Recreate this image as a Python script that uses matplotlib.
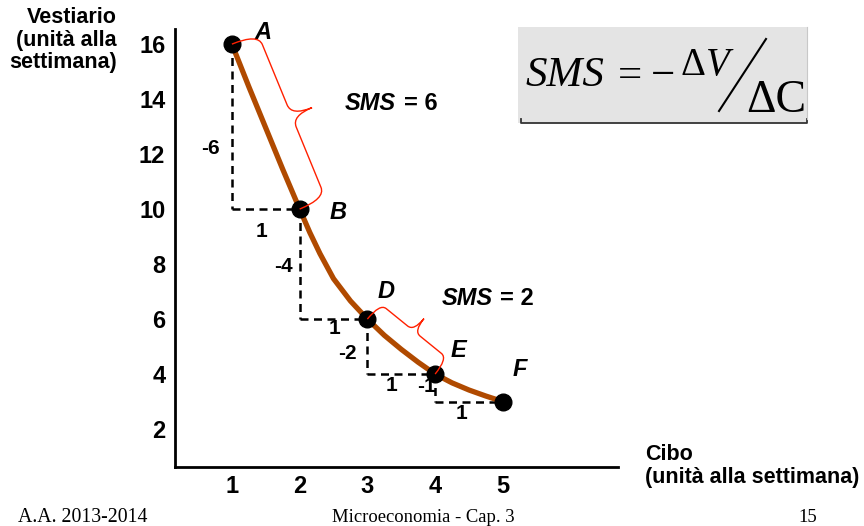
import numpy as np
import matplotlib
matplotlib.use("Agg")
import matplotlib.pyplot as plt
from matplotlib.path import Path
from matplotlib.patches import PathPatch, Rectangle
from matplotlib.transforms import IdentityTransform
from matplotlib.lines import Line2D

# basket points
pt_names = ['A', 'B', 'D', 'E', 'F']
pt_x = [1, 2, 3, 4, 5]
pt_y = [16, 10, 6, 4, 3]

# indifference curve
curve_x = [1, 1.25, 1.5, 1.75, 2, 2.15, 2.3, 2.5, 2.75, 3, 3.25, 3.5, 3.75, 4, 4.25, 4.5, 4.75, 5]
curve_y = [16, 14.45, 12.95, 11.45, 10, 9.15, 8.38, 7.47, 6.66, 6, 5.41, 4.9, 4.43, 4.0, 3.68, 3.42, 3.2, 3.0]

# step labels (dV and dC)
step_labels = ['-6', '1', '-4', '1', '-2', '1', '-1', '1']
step_lx = [0.68, 1.44, 1.76, 2.52, 2.71, 3.36, 3.87, 4.39]
step_ly = [12.2, 9.18, 7.9, 5.66, 4.75, 3.6, 3.54, 2.57]

# name label positions
name_lx = [1.46, 2.57, 3.28, 4.34, 5.25]
name_ly = [16.41, 9.87, 7.0, 4.87, 4.15]

# SMS labels
sms_text = ['= 6', '= 2']
sms_x = [2.67, 4.09]
sms_y = [13.84, 6.75]

xticks = [1, 2, 3, 4, 5]
yticks = [2, 4, 6, 8, 10, 12, 14, 16]

W, H = 864, 526
fig = plt.figure(figsize=(W / 100, H / 100), dpi=100)
ax = fig.add_axes([175 / W, 1 - 467 / H, (618 - 175) / W, (467 - 29) / H])

sans = 'Liberation Sans'
serif = 'Liberation Serif'
brown = '#B04A00'

ax.set_xlim(0.16, 6.70)
ax.set_ylim(0.62, 16.55)
for s in ['top', 'right']:
    ax.spines[s].set_visible(False)
for s in ['left', 'bottom']:
    ax.spines[s].set_linewidth(2)
ax.set_xticks(xticks)
ax.set_yticks(yticks)
ax.tick_params(length=0)
ax.tick_params(axis='x', pad=6)
ax.tick_params(axis='y', pad=7)
for lab in ax.get_xticklabels() + ax.get_yticklabels():
    lab.set_fontfamily(sans)
    lab.set_fontweight('bold')
    lab.set_fontsize(17)

# dashed steps
for i in range(len(pt_x) - 1):
    ax.plot([pt_x[i], pt_x[i]], [pt_y[i], pt_y[i + 1]], color='black', lw=1.8,
            dashes=(3.2, 2.2), zorder=2)
    ax.plot([pt_x[i], pt_x[i + 1]], [pt_y[i + 1], pt_y[i + 1]], color='black', lw=1.8,
            dashes=(3.2, 2.2), zorder=2)

ax.plot(curve_x, curve_y, color=brown, lw=3.8, solid_capstyle='round',
        solid_joinstyle='round', zorder=3)
ax.plot(pt_x, pt_y, 'o', color='black', ms=12, zorder=5)

for name, x, y in zip(pt_names, name_lx, name_ly):
    ax.text(x, y, name, fontfamily=sans, fontweight='bold', fontstyle='italic',
            fontsize=17, ha='center', va='center')
for lab, x, y in zip(step_labels, step_lx, step_ly):
    ax.text(x, y, lab, fontfamily=sans, fontweight='bold', fontsize=15,
            ha='center', va='center', zorder=4)

renderer = fig.canvas.get_renderer()
for lab, x, y in zip(sms_text, sms_x, sms_y):
    t = ax.text(x, y, 'SMS', fontfamily=sans, fontweight='bold', fontstyle='italic',
                fontsize=17, ha='left', va='center')
    x1 = t.get_window_extent(renderer).x1 + 8
    xd = ax.transData.inverted().transform((x1, 0))[0]
    ax.text(xd, y, lab, fontfamily=sans, fontweight='bold',
            fontsize=17, ha='left', va='center')


def brace(i, j, arm, tip, h):
    p0 = ax.transData.transform((pt_x[i], pt_y[i]))
    p1 = ax.transData.transform((pt_x[j], pt_y[j]))
    d = p1 - p0
    L = np.hypot(*d)
    d = d / L
    n = np.array([-d[1], d[0]])
    m = L / 2
    loc = [(0, 0), (0, arm), (h, arm), (m - h, arm), (m, arm), (m, tip),
           (m, arm), (m + h, arm), (L - h, arm), (L, arm), (L, 0)]
    codes = [Path.MOVETO, Path.CURVE3, Path.CURVE3, Path.LINETO, Path.CURVE3, Path.CURVE3,
             Path.CURVE3, Path.CURVE3, Path.LINETO, Path.CURVE3, Path.CURVE3]
    verts = [p0 + u * d + v * n for u, v in loc]
    fig.patches.append(PathPatch(Path(verts, codes), fill=False, edgecolor='#FF2000',
                                 lw=1.0, transform=IdentityTransform(), zorder=6))


brace(0, 1, 28, 50, 12)
brace(2, 3, 20, 36, 8)

# axis titles
fig.text(117 / W, 1 - 7 / H, 'Vestiario\n(unità alla\nsettimana)', fontfamily=sans,
         fontweight='bold', fontsize=15.5, ha='right', va='top', linespacing=1.1)
fig.text(645 / W, 1 - 444 / H, 'Cibo\n(unità alla settimana)', fontfamily=sans,
         fontweight='bold', fontsize=15.5, ha='left', va='top', linespacing=1.1)


def fx(px):
    return px / W


def fy(py):
    return 1 - py / H


# formula box
fig.patches.append(Rectangle((fx(518), fy(123)), 289 / W, 96 / H,
                             transform=fig.transFigure, facecolor='#E4E4E4',
                             edgecolor='none'))
fig.lines.append(Line2D([fx(521), fx(521), fx(807), fx(807)],
                        [fy(119), fy(123), fy(123), fy(119)],
                        transform=fig.transFigure, color='#333333', lw=1.3))
fig.lines.append(Line2D([fx(807), fx(807)], [fy(119), fy(27)],
                        transform=fig.transFigure, color='#C8C8C8', lw=0.8))

fig.text(fx(526), fy(86.5), 'SMS', fontfamily=serif, fontstyle='italic', fontsize=31,
         ha='left', va='baseline')
fig.text(fx(630), fy(86.5), '=', fontfamily=serif, fontsize=31, ha='center', va='baseline')
fig.text(fx(663), fy(87), '\u2212', fontfamily=serif, fontsize=31, ha='center', va='baseline')
fig.text(fx(680), fy(75), '\u0394', fontfamily=serif, fontsize=28, ha='left', va='baseline')
fig.text(fx(706), fy(75), 'V', fontfamily=serif, fontstyle='italic', fontsize=28,
         ha='left', va='baseline')
fig.lines.append(Line2D([fx(766), fx(719)], [fy(39), fy(111)], transform=fig.transFigure,
                        color='black', lw=1.5))
fig.text(fx(746), fy(111.5), '\u0394C', fontfamily=serif, fontsize=33, ha='left',
         va='baseline')

# footer
fig.text(fx(18), fy(522), 'A.A. 2013-2014', fontfamily=serif, fontsize=14.3, ha='left',
         va='baseline')
fig.text(fx(423), fy(522), 'Microeconomia - Cap. 3', fontfamily=serif, fontsize=13.4,
         ha='center', va='baseline')
fig.text(fx(808), fy(522), '15', fontfamily=serif, fontsize=13.5, ha='center', va='baseline')

fig.savefig('out.png', dpi=100)
